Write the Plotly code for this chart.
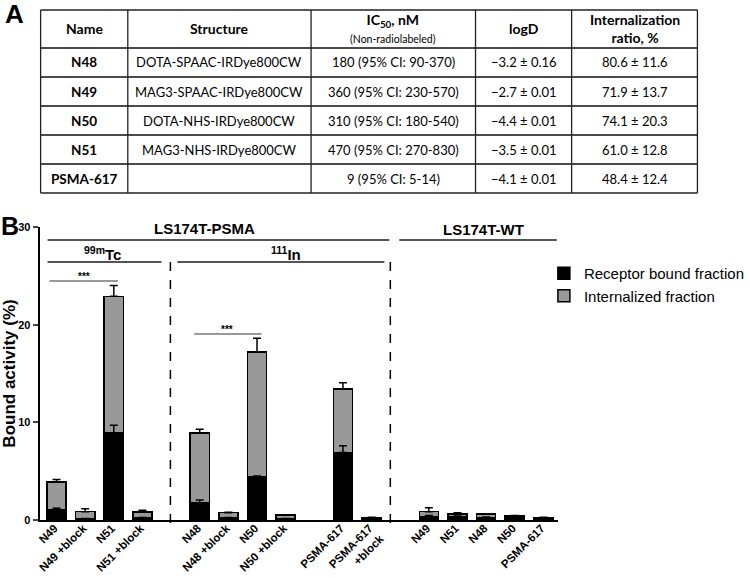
import plotly.graph_objects as go

# ============================================================
# Data
# ============================================================

# Panel A: table
table_header = ["<b>Name</b>", "<b>Structure</b>",
                "<b>IC<sub>50</sub>, nM</b><br>"
                "<span style='font-size:10.5px'>(Non-radiolabeled)</span>",
                "<b>logD</b>", "<b>Internalization<br>ratio, %</b>"]
table_names = ["N48", "N49", "N50", "N51", "PSMA-617"]
table_structures = ["DOTA-SPAAC-IRDye800CW", "MAG3-SPAAC-IRDye800CW",
                    "DOTA-NHS-IRDye800CW", "MAG3-NHS-IRDye800CW", ""]
table_ic50 = ["180 (95% CI: 90-370)", "360 (95% CI: 230-570)",
              "310 (95% CI: 180-540)", "470 (95% CI: 270-830)",
              "9 (95% CI: 5-14)"]
table_logd = ["\u22123.2 \u00b1 0.16", "\u22122.7 \u00b1 0.01",
              "\u22124.4 \u00b1 0.01", "\u22123.5 \u00b1 0.01",
              "\u22124.1 \u00b1 0.01"]
table_intern = ["80.6 \u00b1 11.6", "71.9 \u00b1 13.7", "74.1 \u00b1 20.3",
                "61.0 \u00b1 12.8", "48.4 \u00b1 12.4"]

# Panel B: bar groups (tracer / cell line)
group_tc = ["N49", "N49 +block", "N51", "N51 +block"]
group_in = ["N48", "N48 +block", "N50", "N50 +block"]
group_psma617 = ["PSMA-617", "PSMA-617<br>+block"]
group_wt = ["N49", "N51", "N48", "N50", "PSMA-617"]

receptor_bound = [1.1, 0.1, 8.9, 0.2,
                  1.75, 0.2, 4.45, 0.1,
                  6.9, 0.2,
                  0.35, 0.35, 0.25, 0.2, 0.15]
receptor_err = [0.1, 0.05, 0.8, 0.05,
                0.3, 0.05, 0.05, 0.05,
                0.7, 0.02,
                0.1, 0.05, 0.05, 0.05, 0.02]
internalized = [2.8, 0.75, 14.0, 0.6,
                7.15, 0.55, 12.75, 0.4,
                6.5, 0.05,
                0.5, 0.25, 0.35, 0.2, 0.1]
total_err = [0.25, 0.3, 1.1, 0.2,
             0.4, 0.05, 1.4, 0.05,
             0.65, 0.02,
             0.4, 0.15, 0.05, 0.05, 0.02]

# ============================================================
# Helpers
# ============================================================

W, H = 750, 577
FONT = "Liberation Sans, Arial, sans-serif"
TFONT = "Lato, sans-serif"


def px(x):
    return x / W


def py(y):
    return 1 - y / H


# slot positions, one empty slot between groups
labels = []
positions = []
slot = 0
for grp in [group_tc, group_in, group_psma617, group_wt]:
    for lab in grp:
        labels.append(lab)
        positions.append(slot)
        slot += 1
    slot += 1

totals = [r + i for r, i in zip(receptor_bound, internalized)]

fig = go.Figure()
shapes = []
annotations = []


def hline(x0, x1, y, color="#555555", width=2, dash="solid"):
    shapes.append(dict(type="line", xref="paper", yref="paper",
                       x0=px(x0), x1=px(x1), y0=py(y), y1=py(y),
                       line=dict(color=color, width=width, dash=dash)))


def vline(x, y0, y1, color="black", width=1.5, dash="solid"):
    shapes.append(dict(type="line", xref="paper", yref="paper",
                       x0=px(x), x1=px(x), y0=py(y0), y1=py(y1),
                       line=dict(color=color, width=width, dash=dash)))


def label(x, y, text, size, family=FONT, bold=True):
    annotations.append(dict(
        x=px(x), y=py(y), xref="paper", yref="paper",
        text=f"<b>{text}</b>" if bold else text, showarrow=False,
        font=dict(family=family, size=size, color="black"),
        xanchor="center", yanchor="middle"))


# ------------------------------------------------------------
# Table (panel A)
# ------------------------------------------------------------

col_widths = [88, 185, 166, 97, 127]
tab_left, tab_top, head_h, row_h = 41, 10, 38, 29

col_edges = [tab_left]
for w in col_widths:
    col_edges.append(col_edges[-1] + w)
row_edges = [tab_top, tab_top + head_h]
for _ in table_names:
    row_edges.append(row_edges[-1] + row_h)

for i, y in enumerate(row_edges):
    outer = i in (0, len(row_edges) - 1)
    hline(col_edges[0], col_edges[-1], y,
          color="#222222" if outer else "#4a4a4a",
          width=1.5 if outer else 2)
for x in col_edges:
    vline(x, row_edges[0], row_edges[-1], color="#222222", width=1.3)

for j, txt in enumerate(table_header):
    label((col_edges[j] + col_edges[j + 1]) / 2, (row_edges[0] + row_edges[1]) / 2 - 1,
          txt, 14, family=TFONT, bold=False)

columns = [[f"<b>{n}</b>" for n in table_names], table_structures,
           table_ic50, table_logd, table_intern]
for j, col in enumerate(columns):
    for i, txt in enumerate(col):
        label((col_edges[j] + col_edges[j + 1]) / 2,
              (row_edges[i + 1] + row_edges[i + 2]) / 2,
              txt, 13.5 if j == 0 else 13, family=TFONT, bold=False)

# ------------------------------------------------------------
# Stacked bars (panel B)
# ------------------------------------------------------------

fig.add_trace(
    go.Bar(
        x=positions,
        y=receptor_bound,
        width=0.67,
        name="Receptor bound fraction",
        marker=dict(color="black", line=dict(color="black", width=1.5))
    )
)

fig.add_trace(
    go.Bar(
        x=positions,
        y=internalized,
        width=0.67,
        name="Internalized fraction",
        marker=dict(color="#999999", line=dict(color="black", width=1.5))
    )
)

# error bars drawn on top of both segments
for yvals, errs in [(receptor_bound, receptor_err), (totals, total_err)]:
    fig.add_trace(
        go.Scatter(
            x=positions,
            y=yvals,
            mode="markers",
            marker=dict(size=1, opacity=0),
            error_y=dict(type="data", symmetric=False, array=errs,
                         arrayminus=[0] * len(errs), color="black",
                         thickness=1.5, width=4),
            showlegend=False,
            hoverinfo="skip"
        )
    )

# ------------------------------------------------------------
# Group lines, separators and significance marks
# ------------------------------------------------------------

hline(48, 393, 240)
hline(403, 562, 240)
hline(48, 163, 262)
hline(179, 388, 262)
hline(50, 119, 281, color="#777777", width=1.5)
hline(196, 264, 334, color="#777777", width=1.5)

vline(172, 262, 527, dash="dash")
vline(394, 262, 527, dash="dash")

label(15, 14, "A", 26)
label(10, 226, "B", 25)
label(206, 228, "LS174T-PSMA", 15)
label(488, 229, "LS174T-WT", 15)
label(103, 253, "<sup>99m</sup>Tc", 15)
label(289, 253, "<sup>111</sup>In", 15)
label(85, 277, "***", 10)
label(229, 330, "***", 10)

# ------------------------------------------------------------
# Layout
# ------------------------------------------------------------

fig.update_layout(
    width=W,
    height=H,
    margin=dict(l=0, r=0, t=0, b=0),
    paper_bgcolor="white",
    plot_bgcolor="white",
    barmode="stack",
    shapes=shapes,
    annotations=annotations,
    showlegend=True,
    legend=dict(
        x=px(549),
        y=py(257),
        xanchor="left",
        yanchor="top",
        traceorder="normal",
        tracegroupgap=0,
        bgcolor="rgba(0,0,0,0)",
        font=dict(family=FONT, size=15, color="black")
    ),
    xaxis=dict(
        domain=[px(40), px(563)],
        range=[-0.59, 17.5],
        tickvals=positions,
        ticktext=labels,
        tickangle=-45,
        ticks="",
        ticklabelstandoff=-5,
        ticklabelshift=-2,
        showline=True,
        linecolor="black",
        linewidth=2,
        showgrid=False,
        zeroline=False,
        automargin=False,
        tickfont=dict(family=FONT, size=11.5, color="black", weight="bold")
    ),
    yaxis=dict(
        domain=[py(520), py(227)],
        range=[0, 30],
        tickvals=[0, 10, 20, 30],
        ticks="outside",
        ticklen=5,
        tickwidth=2,
        showline=True,
        linecolor="black",
        linewidth=2,
        showgrid=False,
        zeroline=False,
        automargin=False,
        tickfont=dict(family=FONT, size=11, color="black", weight="bold"),
        title=dict(text="<b>Bound activity (%)</b>", standoff=4,
                   font=dict(family=FONT, size=17, color="black"))
    )
)

# page body margin would shift the figure by 8 px
fig.write_html("out.html", config={"displayModeBar": False},
               post_script="document.body.style.margin = '0';")
